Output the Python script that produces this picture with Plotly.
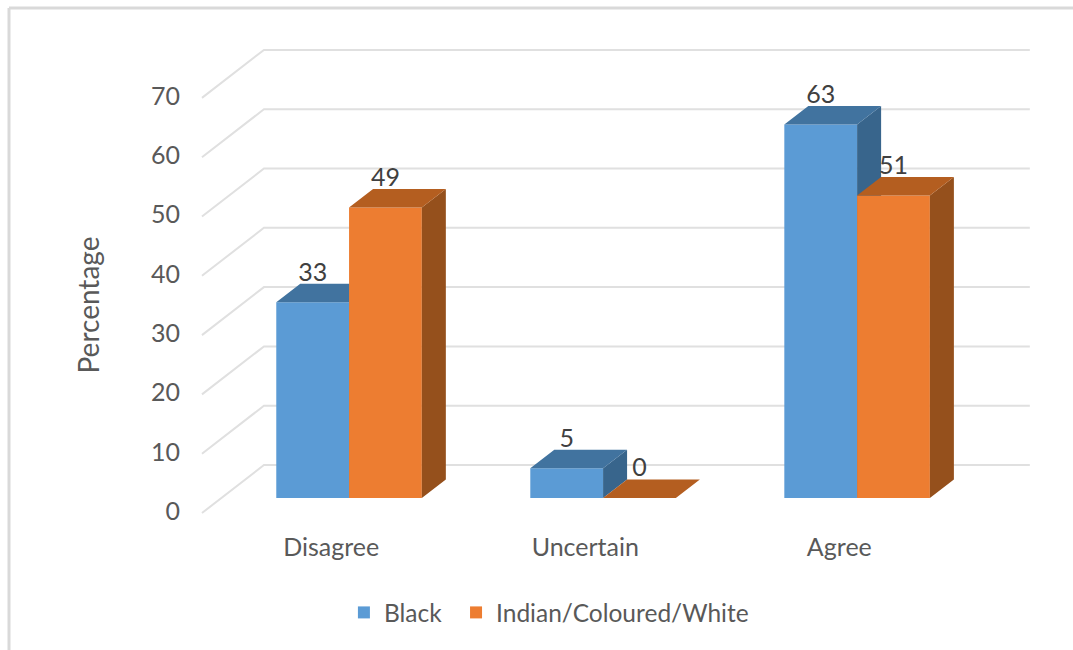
import plotly.graph_objects as go

categories = ["Disagree", "Uncertain", "Agree"]
black = [33, 5, 63]
other = [49, 0, 51]
y_ticks = [0, 10, 20, 30, 40, 50, 60, 70]

BLUE = dict(front="#5B9BD5", top="#41739F", side="#38658C")
ORANGE = dict(front="#ED7D31", top="#B45E20", side="#95501C")
FONT = "Lato, Carlito, Calibri, sans-serif"
TEXT = "#595959"
GRID = "#E0E0E0"

BAR_W = 0.2865
DX, DY = 0.0945, 3.12
XR = [-0.634, 2.72]
YR = [-12.14, 77.23]
xs = list(range(len(categories)))


def faces(values, left):
    sx, sy, tx, ty = [], [], [], []
    for i, v in zip(xs, values):
        l = i + left
        r = l + BAR_W
        sx += [r, r + DX, r + DX, r, r, None]
        sy += [0, DY, v + DY, v, 0, None]
        tx += [l, l + DX, r + DX, r, l, None]
        ty += [v, v + DY, v + DY, v, v, None]
    return sx, sy, tx, ty


def poly(x, y, color, xa, ya):
    return go.Scatter(x=x, y=y, mode="lines", fill="toself", fillcolor=color,
                      line=dict(width=0, color=color), showlegend=False, hoverinfo="skip",
                      xaxis=xa, yaxis=ya)


fig = go.Figure()

# Floor and back wall lines, on the base axes
for t in y_ticks:
    fig.add_trace(go.Scatter(x=[-0.579, -0.335, 2.68], y=[t - 2.53, t + 5.56, t + 5.56],
                             mode="lines", line=dict(color=GRID, width=2), showlegend=False,
                             hoverinfo="skip"))

# First series on an overlaid copy of the axes
fig.add_trace(go.Bar(x=xs, y=black, name="Black", marker=dict(color=BLUE["front"], line=dict(width=0)),
                     width=BAR_W, offset=-BAR_W, hoverinfo="y", xaxis="x2", yaxis="y2", legend="legend"))
sx, sy, tx, ty = faces(black, -BAR_W)
fig.add_trace(poly(sx, sy, BLUE["side"], "x2", "y2"))
fig.add_trace(poly(tx, ty, BLUE["top"], "x2", "y2"))

# Second series on another overlaid copy, so it covers the first
fig.add_trace(go.Bar(x=xs, y=other, name="Indian/Coloured/White",
                     marker=dict(color=ORANGE["front"], line=dict(width=0)),
                     width=BAR_W, offset=0, hoverinfo="y", xaxis="x3", yaxis="y3", legend="legend2"))
sx, sy, tx, ty = faces(other, 0)
fig.add_trace(poly(sx, sy, ORANGE["side"], "x3", "y3"))
fig.add_trace(poly(tx, ty, ORANGE["top"], "x3", "y3"))

# Data labels
for values, shift in ((black, -BAR_W / 2), (other, BAR_W / 2)):
    fig.add_trace(go.Scatter(x=[i + shift for i in xs], y=[v + 4.7 for v in values], mode="text",
                             text=[str(v) for v in values], textposition="middle center",
                             textfont=dict(family=FONT, size=25, color="#404040"),
                             showlegend=False, hoverinfo="skip", xaxis="x3", yaxis="y3", cliponaxis=False))

LEGEND_STYLE = dict(orientation="h", xanchor="left", y=-0.0377, yanchor="top",
                    font=dict(size=24.5, color=TEXT), bgcolor="rgba(0,0,0,0)")

fig.update_layout(
    width=1073, height=650,
    margin=dict(l=188, r=33, t=40, b=80),
    paper_bgcolor="white", plot_bgcolor="rgba(0,0,0,0)",
    font=dict(family=FONT, size=25, color=TEXT),
    barmode="overlay",
    xaxis=dict(range=XR, tickmode="array", tickvals=[i - 0.07 for i in xs], ticktext=categories,
               anchor="free", position=40 / 530,
               showgrid=False, zeroline=False, showline=False, ticks="", tickfont=dict(size=25, color=TEXT)),
    yaxis=dict(range=YR, tickmode="array", tickvals=[t - 2.2 for t in y_ticks],
               ticktext=[str(t) for t in y_ticks], showgrid=False, zeroline=False, showline=False,
               ticks="", ticklabelstandoff=7, tickfont=dict(size=25, color=TEXT),
               title=dict(text="Percentage", font=dict(size=28, color=TEXT), standoff=43)),
    xaxis2=dict(range=XR, overlaying="x", visible=False),
    yaxis2=dict(range=YR, overlaying="y", visible=False),
    xaxis3=dict(range=XR, overlaying="x", visible=False),
    yaxis3=dict(range=YR, overlaying="y", visible=False),
    legend=dict(x=0.183, **LEGEND_STYLE),
    legend2=dict(x=0.3146, **LEGEND_STYLE),
    shapes=[
        dict(type="line", xref="paper", yref="paper", x0=(9 - 188) / 852, x1=(1073 - 188) / 852,
             y0=(570 - 8) / 530, y1=(570 - 8) / 530, line=dict(color="#D9D9D9", width=3)),
        dict(type="line", xref="paper", yref="paper", x0=(9 - 188) / 852, x1=(9 - 188) / 852,
             y0=(570 - 8) / 530, y1=(570 - 650) / 530, line=dict(color="#D9D9D9", width=3)),
    ],
)

fig.write_html("out.html", config={"displayModeBar": False},
               post_script="document.body.style.margin='0';document.body.style.overflow='hidden';")
